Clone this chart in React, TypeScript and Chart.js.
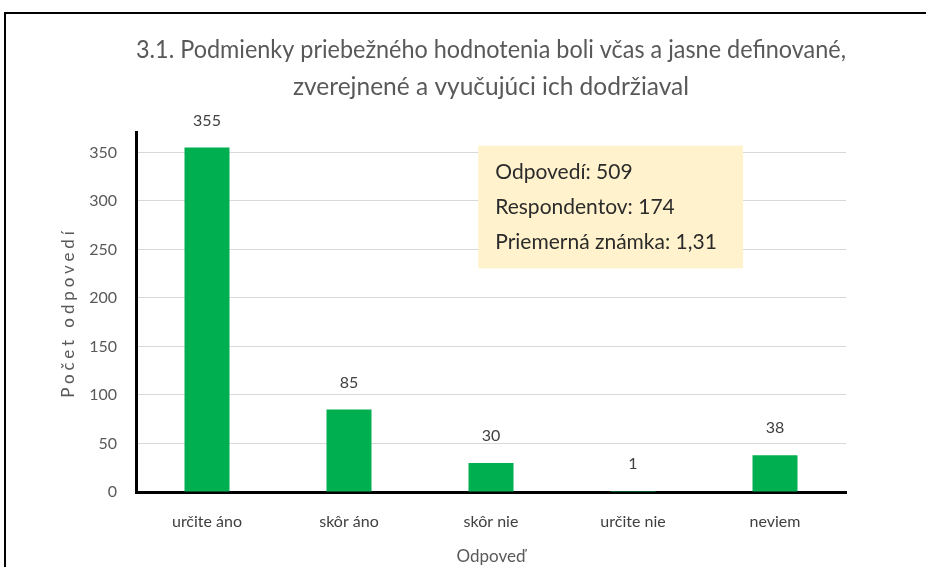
import React, { useEffect, useRef } from "react";
import { Chart, registerables } from "chart.js";

Chart.register(...registerables);

const titleLines = [
  "3.1. Podmienky priebežného hodnotenia boli včas a jasne definované,",
  "zverejnené a vyučujúci ich dodržiaval",
];
const categories = ["určite áno", "skôr áno", "skôr nie", "určite nie", "neviem"];
const counts = [355, 85, 30, 1, 38];
const yTickStep = 50;
const yMax = 370;
const infoLines = ["Odpovedí: 509", "Respondentov: 174", "Priemerná známka: 1,31"];
const xTitle = "Odpoveď";
const yTitle = "Počet odpovedí";

const FONT = "Lato, 'Open Sans', sans-serif";

const dataLabelPlugin = {
  id: "dataLabels",
  afterDatasetsDraw(chart: any) {
    const ctx = chart.ctx;
    const meta = chart.getDatasetMeta(0);
    ctx.save();
    ctx.font = `16px ${FONT}`;
    ctx.fillStyle = "#404040";
    ctx.textAlign = "center";
    ctx.textBaseline = "middle";
    meta.data.forEach((bar: any, i: number) => {
      ctx.fillText(String(counts[i]), bar.x, bar.y - 27);
    });
    ctx.restore();
  },
};

const infoBoxPlugin = {
  id: "infoBox",
  beforeDatasetsDraw(chart: any) {
    const { ctx, chartArea } = chart;
    const w = chartArea.right - chartArea.left;
    const yScale = chart.scales.y;
    const x0 = chartArea.left + w * 0.482;
    const x1 = chartArea.left + w * 0.855;
    const y0 = yScale.getPixelForValue(357);
    const y1 = yScale.getPixelForValue(230.5);
    ctx.save();
    ctx.fillStyle = "#FFF2CC";
    ctx.fillRect(x0, y0, x1 - x0, y1 - y0);
    ctx.font = `21px ${FONT}`;
    ctx.fillStyle = "#2b2b2b";
    ctx.textAlign = "left";
    ctx.textBaseline = "middle";
    const lh = (y1 - y0) / 3.55;
    infoLines.forEach((line, i) => {
      ctx.fillText(line, x0 + 17, y0 + 27 + i * lh);
    });
    ctx.restore();
  },
};

const yTitlePlugin = {
  id: "yTitleSpaced",
  afterDraw(chart: any) {
    const { ctx, chartArea } = chart;
    const cy = (chartArea.top + chartArea.bottom) / 2;
    ctx.save();
    ctx.translate(69, cy);
    ctx.rotate(-Math.PI / 2);
    ctx.font = `17px ${FONT}`;
    (ctx as any).letterSpacing = "3.9px";
    ctx.fillStyle = "#595959";
    ctx.textAlign = "center";
    ctx.textBaseline = "middle";
    ctx.fillText(yTitle, 0, 0);
    ctx.restore();
  },
};

// centre the chart title over the plot area instead of the whole canvas
const titleCenterPlugin = {
  id: "titleCenter",
  afterLayout(chart: any) {
    const tb = chart.titleBlock;
    if (tb) {
      tb.left = chart.chartArea.left;
      tb.right = chart.chartArea.right;
      tb.width = tb.right - tb.left;
    }
  },
};

export default function App() {
  const ref = useRef<HTMLCanvasElement>(null);

  useEffect(() => {
    document.body.style.margin = "0";
    const canvas = ref.current!;
    const chart = new Chart(canvas, {
      type: "bar",
      data: {
        labels: categories,
        datasets: [
          {
            data: counts,
            backgroundColor: "#00B050",
            borderWidth: 0,
            categoryPercentage: 1,
            barPercentage: 0.317,
          },
        ],
      },
      plugins: [titleCenterPlugin, infoBoxPlugin, dataLabelPlugin, yTitlePlugin],
      options: {
        responsive: false,
        animation: false,
        layout: { padding: { left: 0, right: 80, top: 0, bottom: 0 } },
        plugins: {
          legend: { display: false },
          tooltip: { enabled: false },
          title: {
            display: true,
            text: titleLines,
            color: "#595959",
            font: { family: FONT, size: 24.5, weight: "normal", lineHeight: 1.51 },
            padding: { top: 32, bottom: 27 },
          },
        },
        scales: {
          x: {
            grid: { display: false, drawTicks: false },
            border: { display: true, color: "#000000", width: 3 },
            ticks: {
              color: "#404040",
              font: { family: FONT, size: 16 },
              padding: 20,
            },
            title: {
              display: true,
              text: xTitle,
              color: "#595959",
              font: { family: FONT, size: 17 },
              padding: { top: 15, bottom: 0 },
            },
            afterFit(scale: any) {
              scale.height = 75;
            },
          },
          y: {
            min: 0,
            max: yMax,
            grid: { color: "#D9D9D9", lineWidth: 1, drawTicks: false },
            border: { display: true, color: "#000000", width: 3 },
            ticks: {
              stepSize: yTickStep,
              color: "#595959",
              font: { family: FONT, size: 16 },
              padding: 19,
            },
            afterBuildTicks(scale: any) {
              scale.ticks = scale.ticks.filter((t: any) => t.value % yTickStep === 0);
            },
            afterFit(scale: any) {
              scale.width = 136;
            },
          },
        },
      },
    });
    return () => chart.destroy();
  }, []);

  return (
    <div style={{ position: "relative", width: 926, height: 567, overflow: "hidden", background: "#fff" }}>
      <canvas ref={ref} width={926} height={567} style={{ position: "absolute", left: 0, top: 0, display: "block" }} />
      <div
        style={{
          position: "absolute",
          left: 4,
          top: 12,
          width: 1000,
          height: 700,
          borderTop: "2px solid #000",
          borderLeft: "2px solid #000",
          pointerEvents: "none",
        }}
      />
    </div>
  );
}
